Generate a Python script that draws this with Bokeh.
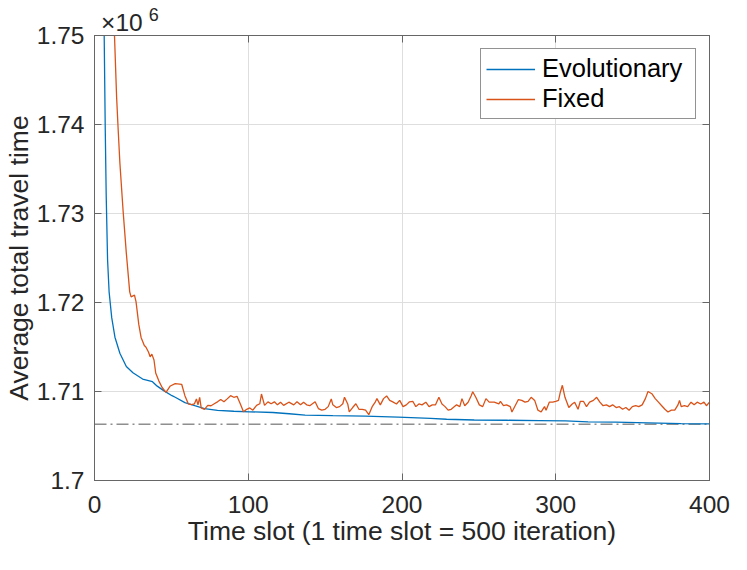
from bokeh.plotting import figure
from bokeh.models import Range1d, FixedTicker, LinearAxis
from bokeh.embed import file_html
from bokeh.resources import INLINE

# ---- data (values in units of 1e6) ----
evo_t = [1, 3, 5, 6.3, 7, 7.6, 8.5, 9.5, 11.2, 13.3, 16.5, 20.7, 25, 31.3, 37.7, 40.8, 45,
         50.4, 52.5, 58.8, 65.2, 71.5, 80, 90.6, 101, 116, 126.6, 137, 155, 176, 197.5,
         218.6, 229, 247, 268, 289.5, 306.4, 321, 339, 360, 381.6, 400]
evo_v = [1.84, 1.79, 1.762, 1.750, 1.7394, 1.7321, 1.7248, 1.7212, 1.7183, 1.7161, 1.7143,
         1.7128, 1.7121, 1.7114, 1.7111, 1.7106, 1.7101, 1.70953, 1.70935, 1.70875, 1.7084,
         1.70808, 1.70789, 1.70778, 1.70772, 1.70764, 1.7075, 1.70735, 1.70728, 1.70724,
         1.70713, 1.70699, 1.70688, 1.7068, 1.70677, 1.70673, 1.70669, 1.70658, 1.70655,
         1.70647, 1.7064, 1.70636]

fix_t = [1, 5, 10, 13, 14.4, 15.4, 16.5, 18.6, 20.7, 22.9, 23.8, 26, 27, 28.8, 30.3, 32.4,
         33.4, 35.1, 36.2, 37.3, 38.7, 39.8, 41.9, 44, 46.5, 49.3, 52.5, 56.7, 58.8, 61, 63,
         65, 66.3, 67.3, 68.4, 69.4, 71.5, 73.7, 75.8, 77.9, 80, 82.1, 84.2, 86.3, 88.5, 90.6,
         92.7, 94.8, 96.9, 99, 101, 103, 105.4, 107.5, 108.6, 110.6, 112.8, 114.9, 117, 119,
         121, 123, 126.4, 129.6, 131.7, 134, 136, 138, 140, 143.5, 145.6, 147.8, 150, 152,
         154, 155, 157.3, 159.4, 161.5, 162.6, 164.7, 165.7, 167.9, 170, 172, 174.2, 176.3,
         178.4, 180.6, 182.7, 183.7, 185.9, 188, 190, 192, 194, 196.4, 198.5, 200.7, 202.8,
         204.9, 207, 209, 211, 213, 215.5, 217.6, 219.7, 221.8, 224, 226, 228, 230, 232,
         235.5, 237.6, 239, 240.8, 243, 245, 246, 248, 250.3, 252.5, 254.6, 256.7, 260, 263,
         264, 266, 268, 270.4, 271.5, 273.6, 275.7, 277.9, 280, 282, 284, 286.3, 288.4, 290.5,
         292.7, 293.7, 295.8, 298, 300, 301.8, 302.8, 304.3, 306, 308.5, 310.7, 312.3, 314.5,
         316, 318, 320, 322, 324.5, 326.6, 328.7, 330.8, 333, 335, 337, 339.3, 341.4, 343.5,
         345.6, 347.7, 349.8, 352, 354, 356.2, 358.3, 360, 362.5, 364.7, 366.8, 368.9, 371,
         373, 375.2, 377.4, 379.5, 380.5, 381.6, 383.7, 385.8, 388, 390, 392, 394.3, 396.4,
         398, 400]
fix_v = [1.83, 1.79, 1.762, 1.750, 1.7430, 1.7394, 1.7357, 1.7303, 1.72555, 1.7212, 1.72063,
         1.72082, 1.7201, 1.71754, 1.71608, 1.71517, 1.7150, 1.71444, 1.7139, 1.7142, 1.71354,
         1.71208, 1.71117, 1.71045, 1.7099, 1.71062, 1.71088, 1.71081, 1.70953, 1.70862,
         1.70852, 1.70862, 1.70917, 1.7085, 1.70935, 1.70815, 1.708, 1.70844, 1.7084, 1.70862,
         1.70884, 1.7091, 1.70884, 1.70917, 1.70953, 1.70935, 1.70946, 1.70862, 1.70772,
         1.708, 1.70815, 1.7079, 1.70844, 1.70862, 1.70972, 1.70844, 1.70884, 1.70862,
         1.70884, 1.7085, 1.7088, 1.70844, 1.7088, 1.7085, 1.70884, 1.7085, 1.7088, 1.7085,
         1.7084, 1.70884, 1.70808, 1.7079, 1.708, 1.7083, 1.70917, 1.7085, 1.7082, 1.7083,
         1.70862, 1.70935, 1.7086, 1.7077, 1.7082, 1.70862, 1.708, 1.708, 1.7079, 1.7074,
         1.7083, 1.70884, 1.7092, 1.7085, 1.7092, 1.7095, 1.709, 1.70884, 1.7086, 1.709,
         1.7083, 1.7085, 1.70884, 1.7089, 1.7083, 1.7086, 1.7085, 1.7088, 1.7083, 1.7085,
         1.7085, 1.70935, 1.7086, 1.7083, 1.7079, 1.708, 1.7085, 1.7083, 1.7092, 1.7084,
         1.7088, 1.70953, 1.70997, 1.70935, 1.7085, 1.7083, 1.7092, 1.7088, 1.7088, 1.7086,
         1.7089, 1.7084, 1.7085, 1.7083, 1.7077, 1.7084, 1.7091, 1.709, 1.7088, 1.7089,
         1.70935, 1.709, 1.7079, 1.7077, 1.7083, 1.7079, 1.7088, 1.7088, 1.7089, 1.709,
         1.7098, 1.7107, 1.70935, 1.7082, 1.7086, 1.7088, 1.708, 1.7089, 1.7089, 1.7083,
         1.7088, 1.709, 1.70935, 1.7088, 1.7084, 1.7085, 1.7083, 1.7085, 1.7082, 1.7083,
         1.708, 1.7082, 1.7079, 1.7083, 1.7084, 1.7083, 1.7085, 1.7092, 1.71, 1.70975,
         1.7092, 1.7088, 1.7084, 1.708, 1.7077, 1.7079, 1.7079, 1.7085, 1.709, 1.7083,
         1.7084, 1.7083, 1.7088, 1.7085, 1.7088, 1.7086, 1.7088, 1.7084, 1.7088]

ref_t = [0, 400]
ref_v = [1.70633, 1.70633]

x_ticks = [0, 100, 200, 300, 400]
y_ticks = [1.70, 1.71, 1.72, 1.73, 1.74, 1.75]
y_tick_labels = ["1.7", "1.71", "1.72", "1.73", "1.74", "1.75"]

x_label = "Time slot (1 time slot = 500 iteration)"
y_label = "Average total travel time"
series_names = ["Evolutionary", "Fixed"]
colors = ["#0072BD", "#D95319"]
exp_base = "\u00d710"
exp_power = "6"

FONT = "Liberation Sans"
TXT = "#262626"
AXC = "#666666"

# horizontal anchor (in x-axis units) for the exponent texts above the frame
EXP_BASE_AT = 17.8
EXP_POWER_AT = 38.5

p = figure(width=731, height=554, output_backend="svg", toolbar_location=None,
           x_range=Range1d(0, 400), y_range=Range1d(1.70, 1.75),
           min_border_left=92, min_border_right=22, min_border_top=35, min_border_bottom=74,
           x_axis_label=x_label, y_axis_label=y_label)
p.title = None
p.background_fill_color = "white"
p.border_fill_color = "white"
p.outline_line_color = AXC
p.outline_line_width = 1

top = LinearAxis()
right = LinearAxis()
p.add_layout(top, "above")
p.add_layout(right, "right")

xt = FixedTicker(ticks=x_ticks, minor_ticks=[])
yt = FixedTicker(ticks=y_ticks, minor_ticks=[])
for ax in list(p.xaxis):
    ax.ticker = xt
for ax in list(p.yaxis):
    ax.ticker = yt
p.xgrid.ticker = xt
p.ygrid.ticker = yt

for ax in list(p.xaxis) + list(p.yaxis):
    ax.axis_line_color = AXC
    ax.axis_line_width = 1
    ax.major_tick_line_color = AXC
    ax.major_tick_in = 7
    ax.major_tick_out = 0
    ax.minor_tick_line_color = None
    ax.major_label_text_font = FONT
    ax.major_label_text_color = TXT
    ax.major_label_text_font_size = "24.5px"
    ax.axis_label_text_font = FONT
    ax.axis_label_text_color = TXT
    ax.axis_label_text_font_size = "26.5px"
    ax.axis_label_text_font_style = "normal"

for ax in (top, right):
    ax.major_label_text_alpha = 0
    ax.major_label_text_font_size = "1px"
    ax.major_label_standoff = 0
    ax.axis_label = None

bottom = p.below[0]
left = p.left[0]
bottom.major_label_standoff = 15
bottom.axis_label_standoff = 0
left.major_label_standoff = 10
left.axis_label_standoff = 0
left.major_label_overrides = dict(zip(y_ticks, y_tick_labels))

# exponent "x10^6" drawn as labels of two extra (invisible) top axes
def exp_axis(at, text, size, standoff):
    ax = LinearAxis(ticker=FixedTicker(ticks=[at], minor_ticks=[]),
                    major_label_overrides={at: text})
    ax.axis_line_color = None
    ax.major_tick_line_color = None
    ax.minor_tick_line_color = None
    ax.major_tick_in = 0
    ax.major_tick_out = 0
    ax.major_label_standoff = standoff
    ax.major_label_text_font = FONT
    ax.major_label_text_font_size = size
    ax.major_label_text_color = TXT
    ax.axis_label = None
    return ax

p.add_layout(exp_axis(EXP_BASE_AT, exp_base, "24.5px", 0), "above")
p.add_layout(exp_axis(EXP_POWER_AT, exp_power, "18px", -15), "above")

p.xgrid.grid_line_color = "#dedede"
p.ygrid.grid_line_color = "#dedede"

p.line(ref_t, ref_v, line_color="#555555", line_width=1, line_dash="12 4 2 4")
p.line(evo_t, evo_v, line_color=colors[0], line_width=1.3, legend_label=series_names[0])
p.line(fix_t, fix_v, line_color=colors[1], line_width=1.3, legend_label=series_names[1])

lg = p.legend[0]
lg.location = "top_right"
lg.margin = 13
lg.border_line_color = "#262626"
lg.border_line_width = 1
lg.background_fill_color = "white"
lg.background_fill_alpha = 1
lg.label_text_font = FONT
lg.label_text_font_size = "25.5px"
lg.label_text_color = "black"
lg.glyph_width = 49
lg.glyph_height = 20
lg.label_standoff = 7
lg.padding = 5
lg.spacing = 1
lg.label_width = 148

open("out.html", "w").write(file_html(p, INLINE))
